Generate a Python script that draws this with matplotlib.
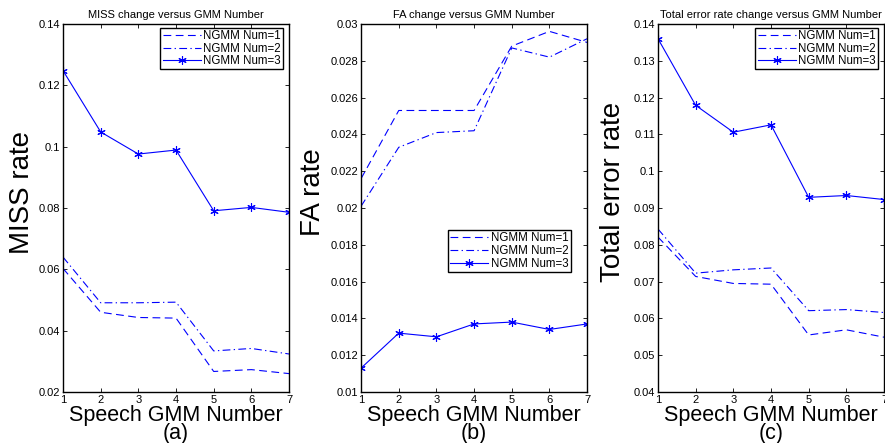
import matplotlib
matplotlib.use("Agg")
import matplotlib.pyplot as plt
from matplotlib.ticker import FixedLocator

plt.rcParams['font.family'] = ['Liberation Sans', 'DejaVu Sans']

x = [1, 2, 3, 4, 5, 6, 7]
labels = ['NGMM Num=1', 'NGMM Num=2', 'NGMM Num=3']

miss_n1 = [0.0603, 0.0460, 0.0443, 0.0441, 0.0267, 0.0273, 0.0260]
miss_n2 = [0.0640, 0.0491, 0.0491, 0.0493, 0.0334, 0.0342, 0.0324]
miss_n3 = [0.1248, 0.1048, 0.0976, 0.0989, 0.0791, 0.0802, 0.0786]

fa_n1 = [0.0216, 0.0253, 0.0253, 0.0253, 0.0288, 0.0296, 0.0290]
fa_n2 = [0.0201, 0.0233, 0.0241, 0.0242, 0.0287, 0.0282, 0.0292]
fa_n3 = [0.0113, 0.0132, 0.0130, 0.0137, 0.0138, 0.0134, 0.0137]

tot_n1 = [0.0821, 0.0714, 0.0695, 0.0693, 0.0555, 0.0569, 0.0549]
tot_n2 = [0.0843, 0.0723, 0.0732, 0.0737, 0.0621, 0.0624, 0.0616]
tot_n3 = [0.1360, 0.1179, 0.1106, 0.1126, 0.0929, 0.0934, 0.0923]

panels = [
    dict(title='MISS change versus GMM Number', ylabel='MISS rate', tag='(a)',
         data=(miss_n1, miss_n2, miss_n3), ylim=(0.02, 0.14),
         yticks=[0.02, 0.04, 0.06, 0.08, 0.1, 0.12, 0.14],
         yticklabels=['0.02', '0.04', '0.06', '0.08', '0.1', '0.12', '0.14'],
         left=0.0712, ylx=-0.124, legend_anchor=(0.975, 0.99)),
    dict(title='FA change versus GMM Number', ylabel='FA rate', tag='(b)',
         data=(fa_n1, fa_n2, fa_n3), ylim=(0.01, 0.03),
         yticks=[0.01, 0.012, 0.014, 0.016, 0.018, 0.02, 0.022, 0.024, 0.026, 0.028, 0.03],
         yticklabels=['0.01', '0.012', '0.014', '0.016', '0.018', '0.02', '0.022',
                      '0.024', '0.026', '0.028', '0.03'],
         left=0.408, ylx=-0.155, legend_anchor=(0.93, 0.44)),
    dict(title='Total error rate change versus GMM Number', ylabel='Total error rate', tag='(c)',
         data=(tot_n1, tot_n2, tot_n3), ylim=(0.04, 0.14),
         yticks=[0.04, 0.05, 0.06, 0.07, 0.08, 0.09, 0.1, 0.11, 0.12, 0.13, 0.14],
         yticklabels=['0.04', '0.05', '0.06', '0.07', '0.08', '0.09', '0.1',
                      '0.11', '0.12', '0.13', '0.14'],
         left=0.7435, ylx=-0.141, legend_anchor=(0.975, 0.99)),
]

fig = plt.figure(figsize=(8.85, 4.43), dpi=100)
blue = '#0000ff'

for p in panels:
    ax = fig.add_axes([p['left'], 0.1151, 0.2554, 0.8307])
    d1, d2, d3 = p['data']
    ax.plot(x, d1, color=blue, lw=0.8, ls=(0, (7, 4)), label=labels[0])
    ax.plot(x, d2, color=blue, lw=0.8, ls=(0, (7, 3, 1.2, 3)), label=labels[1])
    ax.plot(x, d3, color=blue, lw=0.8, ls='-', marker=(6, 2, 0), ms=6, mew=0.8,
            label=labels[2])
    ax.set_xlim(1, 7)
    ax.set_ylim(*p['ylim'])
    ax.set_xticks(x)
    ax.set_xticklabels([str(v) for v in x])
    ax.yaxis.set_major_locator(FixedLocator(p['yticks']))
    ax.set_yticklabels(p['yticklabels'])
    ax.tick_params(direction='in', top=True, right=True, length=3, width=0.6,
                   labelsize=8, pad=2)
    for s in ax.spines.values():
        s.set_linewidth(1.0)
    ax.set_title(p['title'], fontsize=8, pad=4)
    ax.set_xlabel('Speech GMM Number\n' + p['tag'], fontsize=15.5, labelpad=0,
                  linespacing=0.85)
    ax.set_ylabel(p['ylabel'], fontsize=20)
    ax.yaxis.set_label_coords(p['ylx'], 0.543)
    leg = ax.legend(loc='upper right', bbox_to_anchor=p['legend_anchor'],
                    fontsize=8.3, frameon=True, fancybox=False, framealpha=1,
                    edgecolor='black', borderpad=0.2, labelspacing=0.05,
                    handlelength=3.3, handletextpad=0.25, borderaxespad=0.0)
    leg.get_frame().set_linewidth(1.0)

fig.savefig('out.png', dpi=100)
